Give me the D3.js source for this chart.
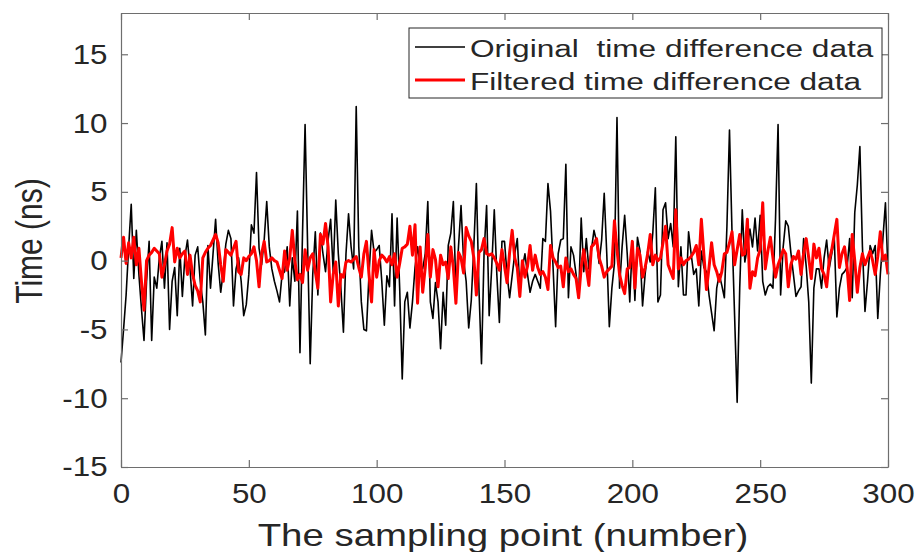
<!DOCTYPE html>
<meta charset="utf-8">
<style>

body {
  margin: 0;
  background: #fff;
}

svg {
  display: block;
}

text {
  font-family: "Liberation Sans", Arial, sans-serif;
  fill: #262626;
}

</style>
<script src="https://cdn.jsdelivr.net/npm/d3@7"></script>
<body></body>
<script>

// sample index is the position in the array (0..300)
var original = [
  -7.4, -5.0, -2.5, 1.0, 4.1, -1.3, 2.2, -1.0, -3.5, -5.8,
  -1.5, 1.4, -5.8, -1.2, -2.0, 0.2, 1.4, -2.0, 1.3, -5.0,
  -1.5, -0.5, -4.0, 0.9, -2.6, 0.3, 1.5, -0.6, -3.3, 0.4,
  1.0, -1.5, -3.0, -5.4, 1.1, -2.0, 0.5, 3.0, -0.2, -2.3,
  -0.8, 1.2, 2.2, 1.6, -3.3, -0.6, 0.2, -1.5, -4.0, -3.2,
  -1.0, 2.6, 2.0, 6.4, 0.9, -0.3, 1.5, 4.3, 1.0, -0.6,
  -1.5, -2.2, -3.0, -1.0, -0.8, 1.0, -3.3, 0.2, -1.5, 3.6,
  -6.7, 2.0, 9.9, 1.0, -7.5, -1.0, 2.1, -2.5, 2.0, 0.5,
  -0.8, 1.5, 3.0, -0.8, 4.4, 0.5, -2.0, -5.2, 0.5, 3.4,
  1.0, -0.6, 11.2, 1.0, -3.0, -5.0, -5.1, -1.0, 2.2, 0.6,
  0.8, 1.1, -1.5, -4.7, -1.1, -1.9, 3.4, -3.3, 3.1, -2.0,
  -8.6, -3.0, -2.3, -4.9, -3.0, -0.5, 1.0, -0.3, -0.6, 0.5,
  4.3, -3.0, -4.2, -1.6, -3.0, -6.4, -2.3, -4.7, 1.1, 2.0,
  4.3, -2.3, 1.0, 4.0, 0.0, -1.5, -4.9, -2.9, 1.0, 5.6,
  -2.0, -7.5, 0.5, 4.0, -4.0, -0.5, 3.7, -1.0, -4.5, 1.4,
  1.4, -1.0, -2.7, -1.1, 0.5, 1.6, -2.1, -0.5, 0.5, -1.0,
  -2.3, -1.5, -1.0, -1.5, -2.0, 1.6, 1.4, 5.6, 3.6, -0.5,
  -4.8, 0.5, 1.5, 1.6, 7.0, -2.7, 1.0, 0.4, -1.0, -2.7,
  3.1, -0.8, 1.6, -0.6, 0.8, 2.2, 1.4, -0.2, 1.5, 4.9,
  0.5, -4.8, -2.0, -0.2, 10.4, -2.0, 1.0, 3.3, 0.5, -3.0,
  1.4, -2.9, 1.7, 0.7, -3.3, -1.0, 0.7, -0.1, 2.0, 5.3,
  -3.0, -2.5, 3.7, 4.2, 1.6, 2.7, 1.0, 9.0, -1.9, 1.0,
  -2.5, -2.5, 2.1, 0.5, -1.0, -0.6, -3.3, 0.7, -0.5, -0.8,
  -2.5, -3.8, -5.1, -2.0, -1.0, -1.8, -2.7, 2.5, 9.5, 2.0,
  -4.0, -10.3, -2.0, 3.7, -0.1, 1.0, 2.3, 1.0, 3.1, 0.7,
  3.3, -1.5, -2.5, -1.9, -1.7, -2.0, 3.0, 9.9, -2.5, 1.0,
  2.9, 2.5, 0.6, -1.0, -2.6, -2.2, -1.9, 1.6, -0.4, -3.0,
  -8.9, -2.0, -0.6, -0.6, -2.0, 0.2, 1.5, -0.6, 0.5, 1.6,
  -4.1, -2.0, -1.0, -0.8, -0.5, 1.6, -2.7, 3.5, 5.5, 8.3,
  1.0, -3.7, -1.5, 1.1, 0.5, 1.1, -4.2, -1.0, 1.6, 4.2,
  -0.8
];

var filtered = [
  0.2, 1.7, -0.2, 1.3, 0.2, 1.7, -0.3, 0.9, -1.5, -3.6,
  0.0, 0.4, 0.6, 0.9, 0.7, 0.5, -1.2, -0.3, 0.7, 1.2,
  2.4, -0.1, 0.9, 0.2, 0.5, 0.7, -1.0, 0.4, -1.0, -1.8,
  -2.2, -3.0, 0.2, 0.6, 0.9, 1.1, 1.5, 1.9, 1.3, -0.3,
  -1.5, 0.8, 0.6, 0.4, 0.9, 1.4, -0.8, -1.0, 0.2, 0.0,
  0.3, 0.5, 1.0, 0.0, -1.9, 0.5, 1.4, -0.1, 0.0, 0.2,
  0.0, -0.1, -0.7, -1.3, 0.7, -0.7, 0.2, 2.2, 0.0, -1.4,
  -1.0, -1.6, 0.8, -0.7, 0.2, 0.5, -0.8, -2.0, 1.9, 1.2,
  2.7, 1.0, -3.0, -1.0, -0.1, -3.3, -1.0, -1.2, -0.1, 0.0,
  -0.1, 0.1, 0.3, -0.5, -1.2, 0.5, 1.4, -1.0, -3.0, 0.8,
  -1.2, 0.0, 0.4, 0.2, -0.1, 0.3, -0.3, 0.5, -1.2, -0.2,
  0.9, 1.0, 1.2, 2.5, 0.4, 2.6, -3.1, 1.0, -2.3, -0.5,
  1.9, -1.2, 0.8, 0.1, -1.9, 0.4, -0.3, -0.1, -1.3, 1.0,
  -0.5, -3.1, 0.6, 0.2, -0.9, 2.4, 1.8, 1.4, 0.2, -2.5,
  0.6, 0.8, 1.6, 0.5, 0.4, 0.5, 0.2, -0.2, -0.7, 0.8,
  -0.4, -1.6, 0.6, 2.2, 0.2, -0.5, -2.6, 0.0, -1.2, -0.4,
  1.1, -0.7, 0.4, -0.5, -1.0, -0.8, -1.2, -2.1, 1.1, 0.2,
  -0.1, -0.5, -0.4, -1.9, 0.2, -0.8, -0.6, -1.0, -1.3, -2.7,
  -0.5, 0.8, -0.5, -1.8, 1.0, 1.2, 1.6, 0.2, -0.4, -1.2,
  -0.8, -0.6, -0.4, 2.9, 0.8, -1.0, -1.8, -2.4, -0.6, -0.5,
  1.4, -2.0, 0.9, 0.4, -1.2, -0.5, 0.5, 1.9, -0.3, 0.4,
  0.0, 0.2, 1.3, 2.5, -0.3, -0.8, -1.3, 3.7, -0.6, 0.2,
  -0.3, 0.0, 0.1, 0.3, 0.6, 1.1, -0.3, 3.0, 0.4, -2.1,
  -0.5, 1.3, -0.3, -0.8, -1.5, -0.8, 0.5, 0.6, 1.3, 2.1,
  -0.3, 0.8, 1.9, 0.4, 0.5, 3.0, -2.0, -0.8, -1.1, 0.2,
  0.8, 4.2, -0.6, 0.7, 1.7, 0.2, -1.2, -0.3, 0.2, 0.8,
  0.5, -1.9, -0.3, 0.3, 0.1, 0.7, -1.0, 0.5, 1.6, 0.2,
  -1.3, 1.2, 0.2, 0.9, -0.6, -1.0, -1.9, 0.0, 0.8, 1.9,
  3.0, -0.5, 0.5, 1.0, -0.5, -2.9, 1.9, 0.0, -2.3, -0.5,
  0.5, -0.3, 0.2, 0.7, 0.0, -1.0, 0.3, 2.1, 0.0, 0.4,
  -1.0
];

var xTicks = [0, 50, 100, 150, 200, 250, 300];
var yTicks = [-15, -10, -5, 0, 5, 10, 15];
var legendLabels = ['Original  time difference data', 'Filtered time difference data'];

var width = 919;
var height = 552;
var plotLeft = 121, plotRight = 888, plotTop = 13, plotBottom = 467;
var axisColor = '#6e6e6e';
var stretch = 1.12; // the figure text is a bit wide

var x = d3.scaleLinear().domain([0, 300]).range([plotLeft, plotRight]);
var y = d3.scaleLinear().domain([-15, 18]).range([plotBottom, plotTop]);

// plain hyphen for negatives, like the original figure
var plainFormat = function(d) { return String(d); };

var svg = d3.select('body').append('svg')
  .attr('width', width)
  .attr('height', height);

//Draw the two series
var line = d3.line()
  .x(function(d, i) { return x(i); })
  .y(function(d) { return y(d); });

svg.append('path')
  .datum(original)
  .attr('fill', 'none')
  .attr('stroke', '#000')
  .attr('stroke-width', 1.6)
  .attr('stroke-linejoin', 'round')
  .attr('d', line);

svg.append('path')
  .datum(filtered)
  .attr('fill', 'none')
  .attr('stroke', '#ff0000')
  .attr('stroke-width', 3)
  .attr('stroke-linejoin', 'round')
  .attr('d', line);

//Axes box with inward ticks on all four sides
function styleAxis(g) {
  g.select('.domain').attr('stroke', axisColor).attr('stroke-width', 1.2);
  g.selectAll('.tick line').attr('stroke', axisColor).attr('stroke-width', 1.2);
  g.attr('font-family', null).attr('font-size', 28);
  g.selectAll('text').attr('fill', '#262626').attr('transform', 'scale(' + stretch + ',1)');
}

svg.append('g')
  .attr('transform', 'translate(0,' + plotBottom + ')')
  .call(d3.axisBottom(x).tickValues(xTicks).tickFormat(plainFormat).tickSize(-7).tickSizeOuter(0).tickPadding(16))
  .call(styleAxis);

svg.append('g')
  .attr('transform', 'translate(0,' + plotTop + ')')
  .call(d3.axisTop(x).tickValues(xTicks).tickSize(-7).tickSizeOuter(0).tickFormat(''))
  .call(styleAxis);

svg.append('g')
  .attr('transform', 'translate(' + plotLeft + ',0)')
  .call(d3.axisLeft(y).tickValues(yTicks).tickFormat(plainFormat).tickSize(-7).tickSizeOuter(0).tickPadding(12))
  .call(styleAxis);

svg.append('g')
  .attr('transform', 'translate(' + plotRight + ',0)')
  .call(d3.axisRight(y).tickValues(yTicks).tickSize(-7).tickSizeOuter(0).tickFormat(''))
  .call(styleAxis);

//Axis titles
svg.append('text')
  .attr('transform', 'translate(503,546) scale(1.2,1)')
  .attr('text-anchor', 'middle')
  .attr('font-size', 32)
  .text('The sampling point (number)');

svg.append('text')
  .attr('transform', 'translate(42,241) rotate(-90) scale(1,1.25)')
  .attr('text-anchor', 'middle')
  .attr('font-size', 30)
  .text('Time (ns)');

//Legend
var legend = svg.append('g').attr('transform', 'translate(409,28)');

legend.append('rect')
  .attr('width', 473)
  .attr('height', 70)
  .attr('fill', '#fff')
  .attr('stroke', '#262626')
  .attr('stroke-width', 1);

var legendColors = ['#000', '#ff0000'];
var legendWidths = [1.3, 3];

var item = legend.selectAll('.item')
  .data(legendLabels)
  .enter().append('g')
  .attr('class', 'item')
  .attr('transform', function(d, i) { return 'translate(0,' + (19 + i * 33) + ')'; });

item.append('line')
  .attr('x1', 6)
  .attr('x2', 56)
  .attr('stroke', function(d, i) { return legendColors[i]; })
  .attr('stroke-width', function(d, i) { return legendWidths[i]; });

item.append('text')
  .attr('transform', 'translate(61,10) scale(1.29,1)')
  .attr('font-size', 24.5)
  .attr('fill', '#000')
  .style('white-space', 'pre')
  .text(function(d) { return d; });

</script>
